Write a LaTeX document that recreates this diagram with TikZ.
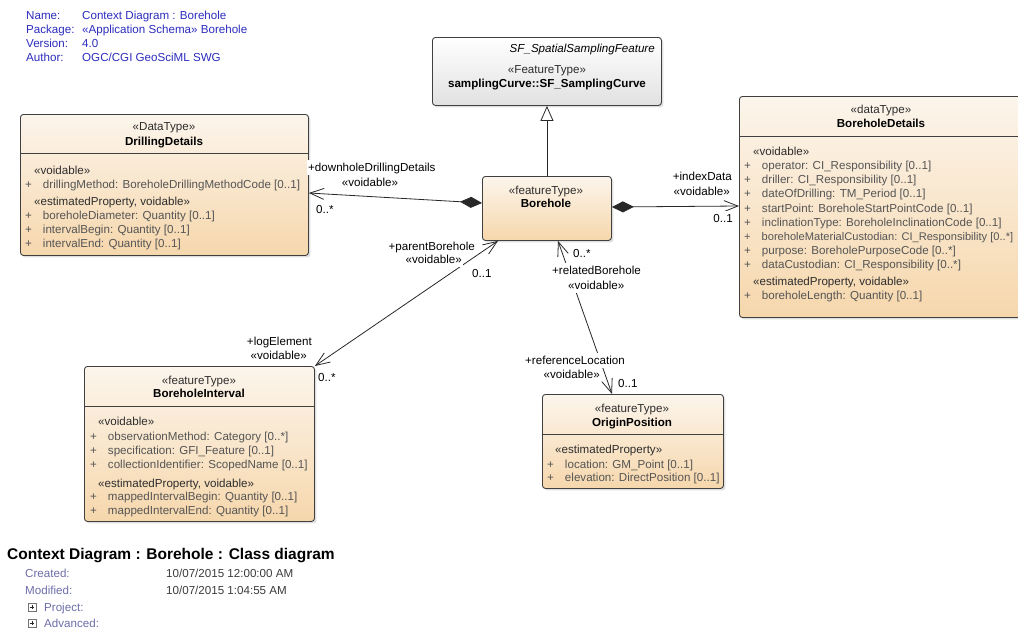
\documentclass[tikz,border=0pt]{standalone}
\usepackage{fontspec}
\setmainfont{Liberation Sans}
\usepackage{tikz}
\usetikzlibrary{arrows.meta, positioning, shadows, calc}
\definecolor{boxtop}{RGB}{252, 245, 236}
\definecolor{boxbottom}{RGB}{246, 215, 172}
\definecolor{sftop}{RGB}{255, 255, 255}
\definecolor{sfbottom}{RGB}{225, 225, 225}
\definecolor{boxline}{RGB}{64, 64, 64}
\definecolor{linkline}{RGB}{40, 40, 40}
\definecolor{attrtext}{RGB}{85, 85, 85}
\definecolor{stereotext}{RGB}{45, 45, 45}
\definecolor{infoblue}{RGB}{45, 45, 190}
\definecolor{infogray}{RGB}{110, 110, 170}
\definecolor{infotext}{RGB}{60, 60, 60}

\tikzset{
  txt/.style={inner sep=0pt, text height=11pt, text depth=2pt, font=\fontsize{11.6}{13}\selectfont},
  classbox/.style={draw=boxline, line width=0.9pt, rounded corners=3pt, anchor=north west, inner sep=0pt,
    top color=boxtop, bottom color=boxbottom, drop shadow={shadow xshift=2pt, shadow yshift=-2pt, opacity=0.25}},
  sfbox/.style={classbox, top color=sftop, bottom color=sfbottom},
  stereo/.style={txt, text=stereotext},
  cname/.style={txt, font=\fontsize{11.6}{13}\selectfont\bfseries},
  group/.style={txt, anchor=west, text=stereotext},
  attrline/.style={txt, anchor=west, text=attrtext, execute at begin node={+\hspace{11pt}}},
  divider/.style={draw=boxline, line width=0.9pt},
  assoc/.style={draw=linkline, line width=0.8pt},
  vee/.tip={Straight Barb[length=14pt, width=11pt]},
  comp/.tip={Diamond[length=22pt, width=11pt]},
  linklabel/.style={txt, fill=white, inner sep=1pt},
  info/.style={txt, anchor=west, text=infoblue},
  metakey/.style={txt, anchor=west, text=infogray},
  metaval/.style={txt, anchor=west, text=infotext},
  expander/.style={draw=black!55, fill=white, minimum size=8pt, inner sep=0pt,
    path picture={\draw[black!85, line width=0.6pt]
      ([xshift=-2.2pt]path picture bounding box.center) -- ([xshift=2.2pt]path picture bounding box.center)
      ([yshift=-2.2pt]path picture bounding box.center) -- ([yshift=2.2pt]path picture bounding box.center);}}
}

\begin{document}
\begin{tikzpicture}[x=1pt, y=-1pt]
    % Canvas
    \useasboundingbox (0,0) rectangle (1018,629);
    \clip (0,0) rectangle (1018,629);
    \fill[white] (0,0) rectangle (1018,629);

    % Diagram info
    \node[info] (namekey) at (26,15) {Name:};
    \node[info] (nameval) at (82,15) {Context Diagram : Borehole};
    \node[info] (packkey) at (26,29) {Package:};
    \node[info] (packval) at (82,29) {«Application Schema» Borehole};
    \node[info] (verkey) at (26,43) {Version:};
    \node[info] (verval) at (82,43) {4.0};
    \node[info] (authkey) at (26,57) {Author:};
    \node[info] (authval) at (82,57) {OGC/CGI GeoSciML SWG};

    % Class boxes
    \node[sfbox, minimum width=229, minimum height=68] (sf) at (432,37) {};
    \node[classbox, minimum width=288, minimum height=141] (drill) at (20,114) {};
    \node[classbox, minimum width=284, minimum height=221] (bdet) at (739,96) {};
    \node[classbox, minimum width=129, minimum height=64] (bh) at (482,176) {};
    \node[classbox, minimum width=230, minimum height=155] (bint) at (84,366) {};
    \node[classbox, minimum width=181, minimum height=94] (orig) at (542,394) {};

    % Compartment lines
    \draw[divider] ($(drill.north west)+(0,39)$) -- ($(drill.north east)+(0,39)$);
    \draw[divider] ($(bdet.north west)+(0,40)$) -- ($(bdet.north east)+(0,40)$);
    \draw[divider] ($(bint.north west)+(0,40)$) -- ($(bint.north east)+(0,40)$);
    \draw[divider] ($(orig.north west)+(0,40)$) -- ($(orig.north east)+(0,40)$);

    % SF_SamplingCurve
    \node[txt, anchor=east, font=\fontsize{11.6}{13}\selectfont\itshape] (sfparent) at (655,48) {SF\_SpatialSamplingFeature};
    \node[stereo] (sfstereo) at (547,69) {«FeatureType»};
    \node[cname] (sfname) at (547,83) {samplingCurve::SF\_SamplingCurve};

    % DrillingDetails
    \node[stereo] (drillstereo) at (164,126) {«DataType»};
    \node[cname] (drillname) at (164,141) {DrillingDetails};
    \node[group] (drillvoid) at (34,170) {«voidable»};
    \node[attrline] (drilla1) at (25,184) {drillingMethod: BoreholeDrillingMethodCode [0..1]};
    \node[group] (drillest) at (34,201) {«estimatedProperty, voidable»};
    \node[attrline] (drilla2) at (25,215) {boreholeDiameter: Quantity [0..1]};
    \node[attrline] (drilla3) at (25,229) {intervalBegin: Quantity [0..1]};
    \node[attrline] (drilla4) at (25,243) {intervalEnd: Quantity [0..1]};

    % BoreholeDetails
    \node[stereo] (bdetstereo) at (881,109) {«dataType»};
    \node[cname] (bdetname) at (881,123) {BoreholeDetails};
    \node[group] (bdetvoid) at (753,151) {«voidable»};
    \node[attrline] (bdeta1) at (744,165) {operator: CI\_Responsibility [0..1]};
    \node[attrline] (bdeta2) at (744,179) {driller: CI\_Responsibility [0..1]};
    \node[attrline] (bdeta3) at (744,193) {dateOfDrilling: TM\_Period [0..1]};
    \node[attrline] (bdeta4) at (744,208) {startPoint: BoreholeStartPointCode [0..1]};
    \node[attrline] (bdeta5) at (744,222) {inclinationType: BoreholeInclinationCode [0..1]};
    \node[attrline, font=\fontsize{11.1}{13}\selectfont] (bdeta6) at (744,236) {boreholeMaterialCustodian: CI\_Responsibility [0..*]};
    \node[attrline] (bdeta7) at (744,250) {purpose: BoreholePurposeCode [0..*]};
    \node[attrline] (bdeta8) at (744,264) {dataCustodian: CI\_Responsibility [0..*]};
    \node[group] (bdetest) at (753,281) {«estimatedProperty, voidable»};
    \node[attrline] (bdeta9) at (744,295) {boreholeLength: Quantity [0..1]};

    % Borehole
    \node[stereo] (bhstereo) at (546,190) {«featureType»};
    \node[cname] (bhname) at (546,203) {Borehole};

    % BoreholeInterval
    \node[stereo] (bintstereo) at (199,380) {«featureType»};
    \node[cname] (bintname) at (199,393) {BoreholeInterval};
    \node[group] (bintvoid) at (98,421) {«voidable»};
    \node[attrline] (binta1) at (90,436) {observationMethod: Category [0..*]};
    \node[attrline] (binta2) at (90,450) {specification: GFI\_Feature [0..1]};
    \node[attrline] (binta3) at (90,464) {collectionIdentifier: ScopedName [0..1]};
    \node[group] (bintest) at (98,483) {«estimatedProperty, voidable»};
    \node[attrline] (binta4) at (90,496) {mappedIntervalBegin: Quantity [0..1]};
    \node[attrline] (binta5) at (90,510) {mappedIntervalEnd: Quantity [0..1]};

    % OriginPosition
    \node[stereo] (origstereo) at (632,408) {«featureType»};
    \node[cname] (origname) at (632,422) {OriginPosition};
    \node[group] (origest) at (555,449) {«estimatedProperty»};
    \node[attrline] (origa1) at (547,464) {location: GM\_Point [0..1]};
    \node[attrline] (origa2) at (547,477) {elevation: DirectPosition [0..1]};

    % Connectors
    \draw[assoc, -{Triangle[length=15pt, width=13pt, fill=white]}] (bh.north) -- (bh.north |- sf.south);
    \draw[assoc, {comp}-{vee}] ($(bh.north west)+(0,27)$) -- ($(drill.north east)+(0,79)$);
    \draw[assoc, {comp}-{vee}] ($(bh.north east)+(0,31)$) -- ($(bdet.north west)+(0,110)$);
    \draw[assoc, {vee}-{vee}] ($(bh.south west)+(16,0)$) -- (bint.north east);
    \draw[assoc, {vee}-{vee}] ($(bh.south west)+(76,0)$) -- ($(orig.north west)+(70,0)$);

    % Role labels
    \node[linklabel, anchor=west] (downrole) at (307,167) {+downholeDrillingDetails};
    \node[linklabel] (downvoid) at (370,182) {«voidable»};
    \node[linklabel, anchor=west] (downmult) at (315,209) {0..*};
    \node[linklabel, anchor=east] (indexrole) at (733,176) {+indexData};
    \node[linklabel, anchor=east] (indexvoid) at (731,191) {«voidable»};
    \node[linklabel, anchor=east] (indexmult) at (734,218) {0..1};
    \node[linklabel, anchor=east] (parentrole) at (476,246) {+parentBorehole};
    \node[linklabel, anchor=east] (parentvoid) at (463,259) {«voidable»};
    \node[linklabel, anchor=west] (parentmult) at (471,273) {0..1};
    \node[linklabel, anchor=east] (logrole) at (313,341) {+logElement};
    \node[linklabel, anchor=east] (logvoid) at (308,355) {«voidable»};
    \node[linklabel, anchor=west] (logmult) at (317,377) {0..*};
    \node[linklabel, anchor=west] (relmult) at (572,253) {0..*};
    \node[linklabel, anchor=west] (relrole) at (551,270) {+relatedBorehole};
    \node[linklabel, anchor=west] (relvoid) at (567,285) {«voidable»};
    \node[linklabel, anchor=west] (refrole) at (524,360) {+referenceLocation};
    \node[linklabel, anchor=east] (refvoid) at (601,374) {«voidable»};
    \node[linklabel, anchor=west] (refmult) at (617,383) {0..1};

    % Diagram footer
    \node[txt, anchor=west, text height=14pt, text depth=2pt, font=\fontsize{15.5}{18}\selectfont\bfseries] (title) at (7,553) {Context Diagram : Borehole : Class diagram};
    \node[metakey] (createdkey) at (25,573) {Created:};
    \node[metaval] (createdval) at (166,573) {10/07/2015 12:00:00 AM};
    \node[metakey] (modkey) at (25,590) {Modified:};
    \node[metaval] (modval) at (166,590) {10/07/2015 1:04:55 AM};
    \node[expander] (projbox) at (32,607) {};
    \node[metakey] (projkey) at (44,607) {Project:};
    \node[expander] (advbox) at (32,623) {};
    \node[metakey] (advkey) at (44,623) {Advanced:};
\end{tikzpicture}
\end{document}
